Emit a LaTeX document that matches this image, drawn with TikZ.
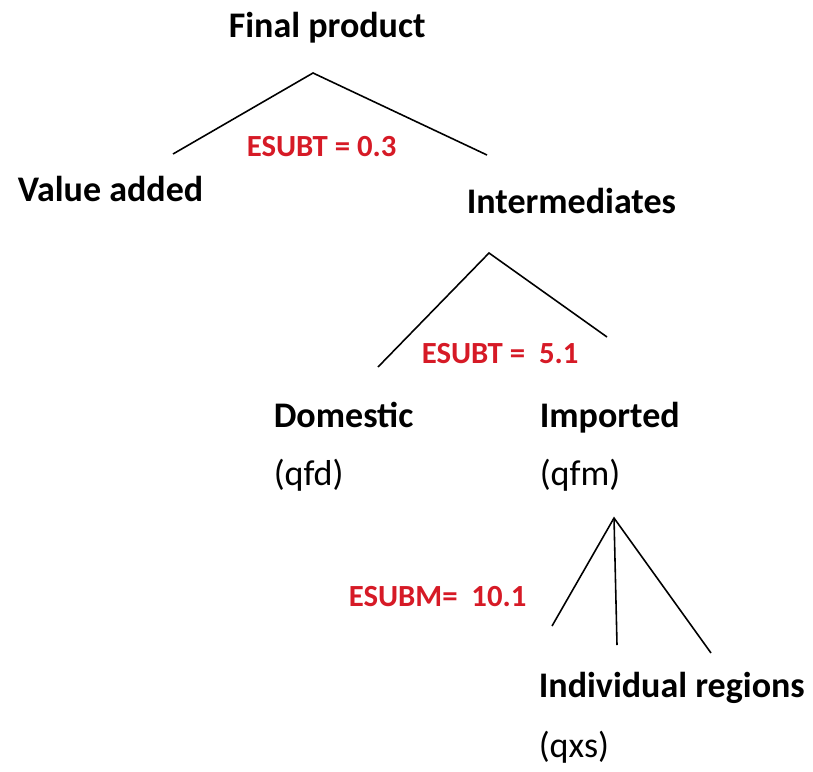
\documentclass[tikz,border=0pt]{standalone}
\usepackage{fontspec}
\setmainfont{Carlito}
\definecolor{esubred}{RGB}{214,26,38}

\begin{document}
\begin{tikzpicture}[x=0.02cm, y=-0.02cm, line width=0.9pt]
    \tikzstyle{lbl}=[anchor=base west, inner sep=0pt, font=\fontsize{20.5}{24}\selectfont\bfseries]
    \tikzstyle{var}=[anchor=base west, inner sep=0pt, font=\fontsize{20.5}{24}\selectfont]
    \tikzstyle{esub}=[anchor=base west, inner sep=0pt, text=esubred, font=\fontsize{17.5}{21}\selectfont\bfseries]
    \useasboundingbox (0,0) rectangle (813,771);
    % top level: value added vs intermediates
    \node[lbl] (final) at (228,37) {Final product};
    \coordinate (top) at (313,73);
    \coordinate (topl) at (173,154);
    \coordinate (topr) at (487,155);
    \draw (topl) -- (top) -- (topr);
    \node[esub] (esubt1) at (246,156) {ESUBT = 0.3};
    \node[lbl] (va) at (17,201) {Value added};
    \node[lbl] (inter) at (466,213) {Intermediates};
    % second level: domestic vs imported
    \coordinate (mid) at (489,253);
    \coordinate (midl) at (378,367);
    \coordinate (midr) at (607,337);
    \draw (midl) -- (mid) -- (midr);
    \node[esub] (esubt2) at (421,363) {ESUBT =\ \ 5.1};
    \node[lbl] (dom) at (273,427) {Domestic};
    \node[var] (qfd) at (273,485) {(qfd)};
    \node[lbl] (imp) at (539,427) {Imported};
    \node[var] (qfm) at (539,485) {(qfm)};
    % third level: imports by region
    \coordinate (bot) at (614,518);
    \coordinate (botl) at (552,626);
    \coordinate (botm) at (617,645);
    \coordinate (botr) at (711,653);
    \draw (botl) -- (bot) -- (botr);
    \draw (bot) -- (botm);
    \node[esub] (esubm) at (348,606) {ESUBM=\ \ 10.1};
    \node[lbl] (reg) at (538,697) {Individual regions};
    \node[var] (qxs) at (538,757) {(qxs)};
\end{tikzpicture}
\end{document}
